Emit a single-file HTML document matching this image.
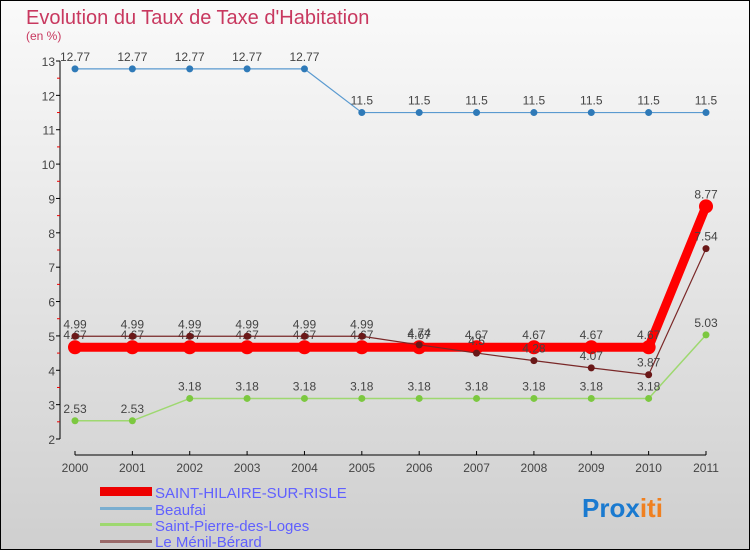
<!DOCTYPE html>
<html><head><meta charset="utf-8"><style>
body{margin:0}
#c{width:750px;height:550px;position:relative;overflow:hidden}
svg text{font-family:"Liberation Sans",sans-serif}
</style></head><body>
<div id="c">
<svg id="s" width="750" height="550" xmlns="http://www.w3.org/2000/svg">
<defs><linearGradient id="bg" x1="0" y1="0" x2="0" y2="1"><stop offset="0" stop-color="#fafafa"/><stop offset="1" stop-color="#cfcfcf"/></linearGradient></defs>
<rect x="0.5" y="0.5" width="749" height="549" fill="url(#bg)" stroke="#000"/>
<text x="26" y="24" font-size="20" fill="#c8385f">Evolution du Taux de Taxe d'Habitation</text>
<text x="26" y="40" font-size="12" fill="#c8385f">(en %)</text>
<g id="axes"></g><g id="series"></g>
<g>
<rect x="100" y="487" width="52" height="9" fill="#e00"/>
<text x="155" y="498" font-size="15" fill="#6060ff">SAINT-HILAIRE-SUR-RISLE</text>
<rect x="100" y="507" width="52" height="3" fill="#7aaed0"/>
<text x="155" y="515" font-size="15" fill="#6060ff">Beaufai</text>
<rect x="100" y="523" width="52" height="3" fill="#9ed870"/>
<text x="155" y="531" font-size="15" fill="#6060ff">Saint-Pierre-des-Loges</text>
<rect x="100" y="540" width="52" height="3" fill="#9a6a6a"/>
<text x="155" y="547" font-size="15" fill="#6060ff">Le Ménil-Bérard</text>
</g>
<text x="582" y="517" font-size="26" font-weight="bold"><tspan fill="#1a7ad0">Pro</tspan><tspan fill="#1a7ad0">x</tspan><tspan fill="#f08020">iti</tspan></text>
</svg></div>
<script>
const years=[2000,2001,2002,2003,2004,2005,2006,2007,2008,2009,2010,2011];
const yTicks=[2,3,4,5,6,7,8,9,10,11,12,13];
const sainthilaire=[4.67,4.67,4.67,4.67,4.67,4.67,4.67,4.67,4.67,4.67,4.67,8.77];
const beaufai=[12.77,12.77,12.77,12.77,12.77,11.5,11.5,11.5,11.5,11.5,11.5,11.5];
const saintpierre=[2.53,2.53,3.18,3.18,3.18,3.18,3.18,3.18,3.18,3.18,3.18,5.03];
const menil=[4.99,4.99,4.99,4.99,4.99,4.99,4.74,4.5,4.28,4.07,3.87,7.54];
const NS="http://www.w3.org/2000/svg";
function X(i){return 75+i*(706-75)/(years.length-1);}
function Y(v){return 439-(v-2)*(439-61)/11;}
function mk(t,a,p){const e=document.createElementNS(NS,t);for(const k in a)e.setAttribute(k,a[k]);p.appendChild(e);return e;}
const ax=document.getElementById('axes');
let l=mk('line',{x1:60,y1:61,x2:60,y2:439,stroke:'#000'},ax);


l=mk('line',{x1:75,y1:455,x2:706,y2:455,stroke:'#000'},ax);


yTicks.forEach(v=>{
 mk('line',{x1:56,y1:Y(v),x2:60,y2:Y(v),stroke:'#000'},ax);
 if(v<13)mk('line',{x1:57,y1:Y(v+0.5),x2:60,y2:Y(v+0.5),stroke:'#e00'},ax);
 const t=mk('text',{x:55,y:Y(v)+5,'font-size':12,'text-anchor':'end',fill:'#444'},ax);t.textContent=v;
 
 
});
years.forEach((yr,i)=>{
 mk('line',{x1:X(i),y1:451,x2:X(i),y2:455,stroke:'#000'},ax);
 const t=mk('text',{x:X(i),y:472,'font-size':12,'text-anchor':'middle',fill:'#444'},ax);t.textContent=yr;
 
 
});
const sg=document.getElementById('series');
function draw(vals,name,col,w,r,dot,lbl){
 const g=mk('g',{},sg);
 
 
 const p=mk('polyline',{points:vals.map((v,i)=>X(i)+','+Y(v)).join(' '),fill:'none',stroke:col,'stroke-width':w},g);
 
 
 vals.forEach((v,i)=>{
  const c=mk('circle',{cx:X(i),cy:Y(v),r:r,fill:dot},g);
  
  
  const t=mk('text',{x:X(i),y:Y(v)-8,'font-size':12,'text-anchor':'middle',fill:'#444'},g);t.textContent=String(v);
  
  
 });
}
draw(beaufai,'beaufai-series','#5a9ad0',1.2,3.5,'#2f7ab8');
draw(saintpierre,'saint-pierre-series','#9ed870',1.5,3.5,'#7cc840');
draw(sainthilaire,'saint-hilaire-series','#f00',9,7,'#f00');
draw(menil,'menil-berard-series','#7a2828',1.2,3.5,'#6a1818');
</script>
</body></html>
